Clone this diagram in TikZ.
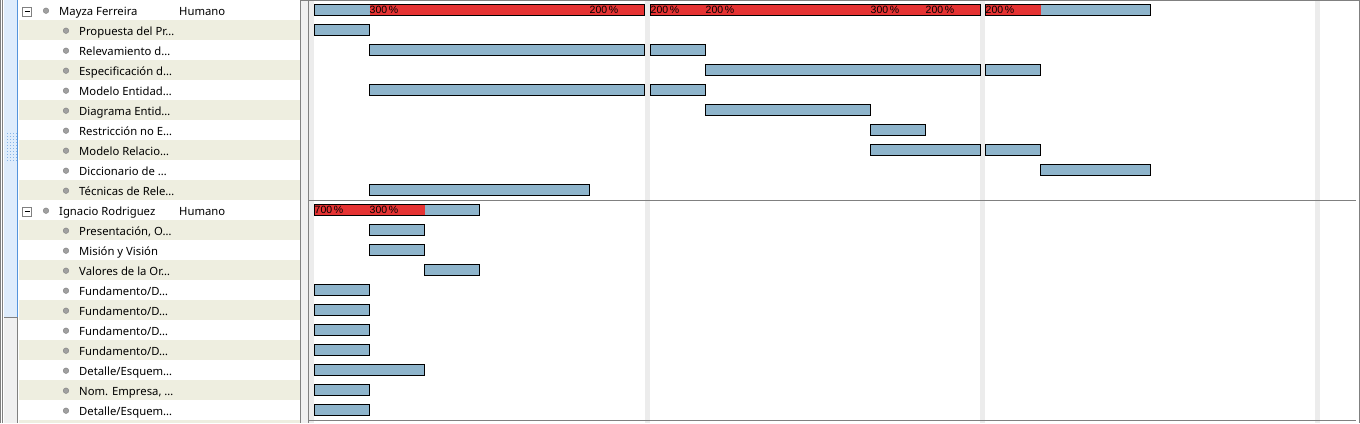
\documentclass[tikz,border=0pt]{standalone}
\usepackage{fontspec}
\setmainfont{Noto Sans}
\newfontfamily\pctfont{Liberation Sans}
\definecolor{barblue}{RGB}{142,180,203}
\definecolor{overred}{RGB}{229,51,51}
\definecolor{rowbeige}{RGB}{238,238,224}
\definecolor{stripegray}{RGB}{236,236,236}
\definecolor{paneblue}{RGB}{222,236,252}
\definecolor{paneline}{RGB}{84,148,220}
\definecolor{frame}{RGB}{128,128,128}
\definecolor{splitgray}{RGB}{240,240,240}
\definecolor{dotgray}{RGB}{160,160,160}

\begin{document}
\begin{tikzpicture}
        [x=1pt, y=-1pt, every node/.style={inner sep=0pt, anchor=base west},
         lbl/.style={font=\fontsize{11.3}{12}\selectfont, text=black},
         pct/.style={font=\pctfont\fontsize{10.5}{10.5}\selectfont, text=black},
         bar/.style={draw=black, line width=1pt},
         taskdot/.style={fill=dotgray, draw=frame, line width=0.4pt},
         rule/.style={draw=frame, line width=1pt}]
        \useasboundingbox (0,0) rectangle (1360,423);

        \fill[white] (0,0) rectangle (1360,423);
        \foreach \k in {1,3,...,19}
            \fill[rowbeige] (19,20*\k) rectangle (300,20*\k+20);
        \fill[rowbeige] (19,420) rectangle (300,423);

        \fill[frame] (0,0) rectangle (1,423);
        \fill[frame] (2,0) rectangle (3,423);
        \fill[paneblue] (4,0) rectangle (17,317);
        \fill[splitgray] (4,317) rectangle (17,423);
        \draw[paneline] (17.5,0) -- (17.5,317);
        \draw[frame] (17.5,317) -- (17.5,423);
        \draw[frame] (4,317.5) -- (17.5,317.5);
        \foreach \gx in {7,10,13,16}
            \foreach \gy in {133,136,...,161}
                \fill[paneline!70] (\gx-0.5,\gy-0.5) rectangle (\gx+0.5,\gy+0.5);

        \fill[splitgray] (301,0) rectangle (308,423);
        \draw[frame] (300.5,0) -- (300.5,423);
        \draw[frame] (308.5,0) -- (308.5,423);
        \foreach \s in {309,645,980,1315}
            \fill[stripegray] (\s,1) rectangle (\s+5,423);
        \draw[rule] (300,0.5) -- (1360,0.5);
        \draw[rule] (1359,0) -- (1359,423);
        \draw[rule] (309,200.5) -- (1356,200.5);
        \draw[rule] (309,420.5) -- (1356,420.5);

        \foreach \k/\who in {0/mayza,10/ignacio} {
            \draw[frame, fill=white, line width=0.8pt] (22.5,20*\k+7) rectangle (31.5,20*\k+16);
            \draw[black, line width=1pt] (24.5,20*\k+11.5) -- (29.5,20*\k+11.5);
            \fill[taskdot] (46,20*\k+10.7) circle (2.8);
        }
        \node[lbl] (mayza) at (59,15) {Mayza Ferreira};
        \node[lbl] (mayzarole) at (179,15) {Humano};
        \node[lbl] (ignacio) at (59,215) {Ignacio Rodriguez};
        \node[lbl] (ignaciorole) at (179,215) {Humano};

        \foreach \k/\txt in {1/{Propuesta del Pr…}, 2/{Relevamiento d…}, 3/{Especificación d…},
            4/{Modelo Entidad…}, 5/{Diagrama Entid…}, 6/{Restricción no E…},
            7/{Modelo Relacio…}, 8/{Diccionario de …}, 9/{Técnicas de Rele…},
            11/{Presentación, O…}, 12/{Misión y Visión}, 13/{Valores de la Or…},
            14/{Fundamento/D…}, 15/{Fundamento/D…}, 16/{Fundamento/D…},
            17/{Fundamento/D…}, 18/{Detalle/Esquem…}, 19/{Nom. Empresa, …},
            20/{Detalle/Esquem…}} {
            \fill[taskdot] (66,20*\k+10.7) circle (2.8);
            \node[lbl] (task\k) at (79,20*\k+15) {\txt};
        }

        \fill[barblue] (314.5,4.8) rectangle (369.5,15.8);
        \fill[overred] (369.5,4.8) rectangle (644.5,15.8);
        \fill[overred] (650.5,4.8) rectangle (980.5,15.8);
        \fill[overred] (985.5,4.8) rectangle (1040.5,15.8);
        \fill[barblue] (1040.5,4.8) rectangle (1150.5,15.8);
        \fill[overred] (314.5,204.8) rectangle (424.5,215.8);
        \fill[barblue] (424.5,204.8) rectangle (479.5,215.8);
        \foreach \k/\a/\b in {0/314/644, 0/650/980, 0/985/1150, 10/314/479}
            \draw[bar] (\a+0.5,20*\k+4.8) rectangle (\b+0.5,20*\k+15.8);

        \foreach \k/\a/\b in {1/314/369, 2/369/644, 2/650/705, 3/705/980, 3/985/1040,
            4/369/644, 4/650/705, 5/705/870, 6/870/925, 7/870/980, 7/985/1040,
            8/1040/1150, 9/369/589, 11/369/424, 12/369/424, 13/424/479,
            14/314/369, 15/314/369, 16/314/369, 17/314/369, 18/314/424,
            19/314/369, 20/314/369}
            \draw[bar, fill=barblue] (\a+0.5,20*\k+4.8) rectangle (\b+0.5,20*\k+15.8);

        \foreach \k/\x/\p in {0/369/300, 0/589/200, 0/650/200, 0/705/200, 0/870/300,
            0/925/200, 0/985/200, 10/314/700, 10/369/300}
            \node[pct] (load\k-\x) at (\x+0.5,20*\k+13.8) {\p\,\%};
\end{tikzpicture}
\end{document}
